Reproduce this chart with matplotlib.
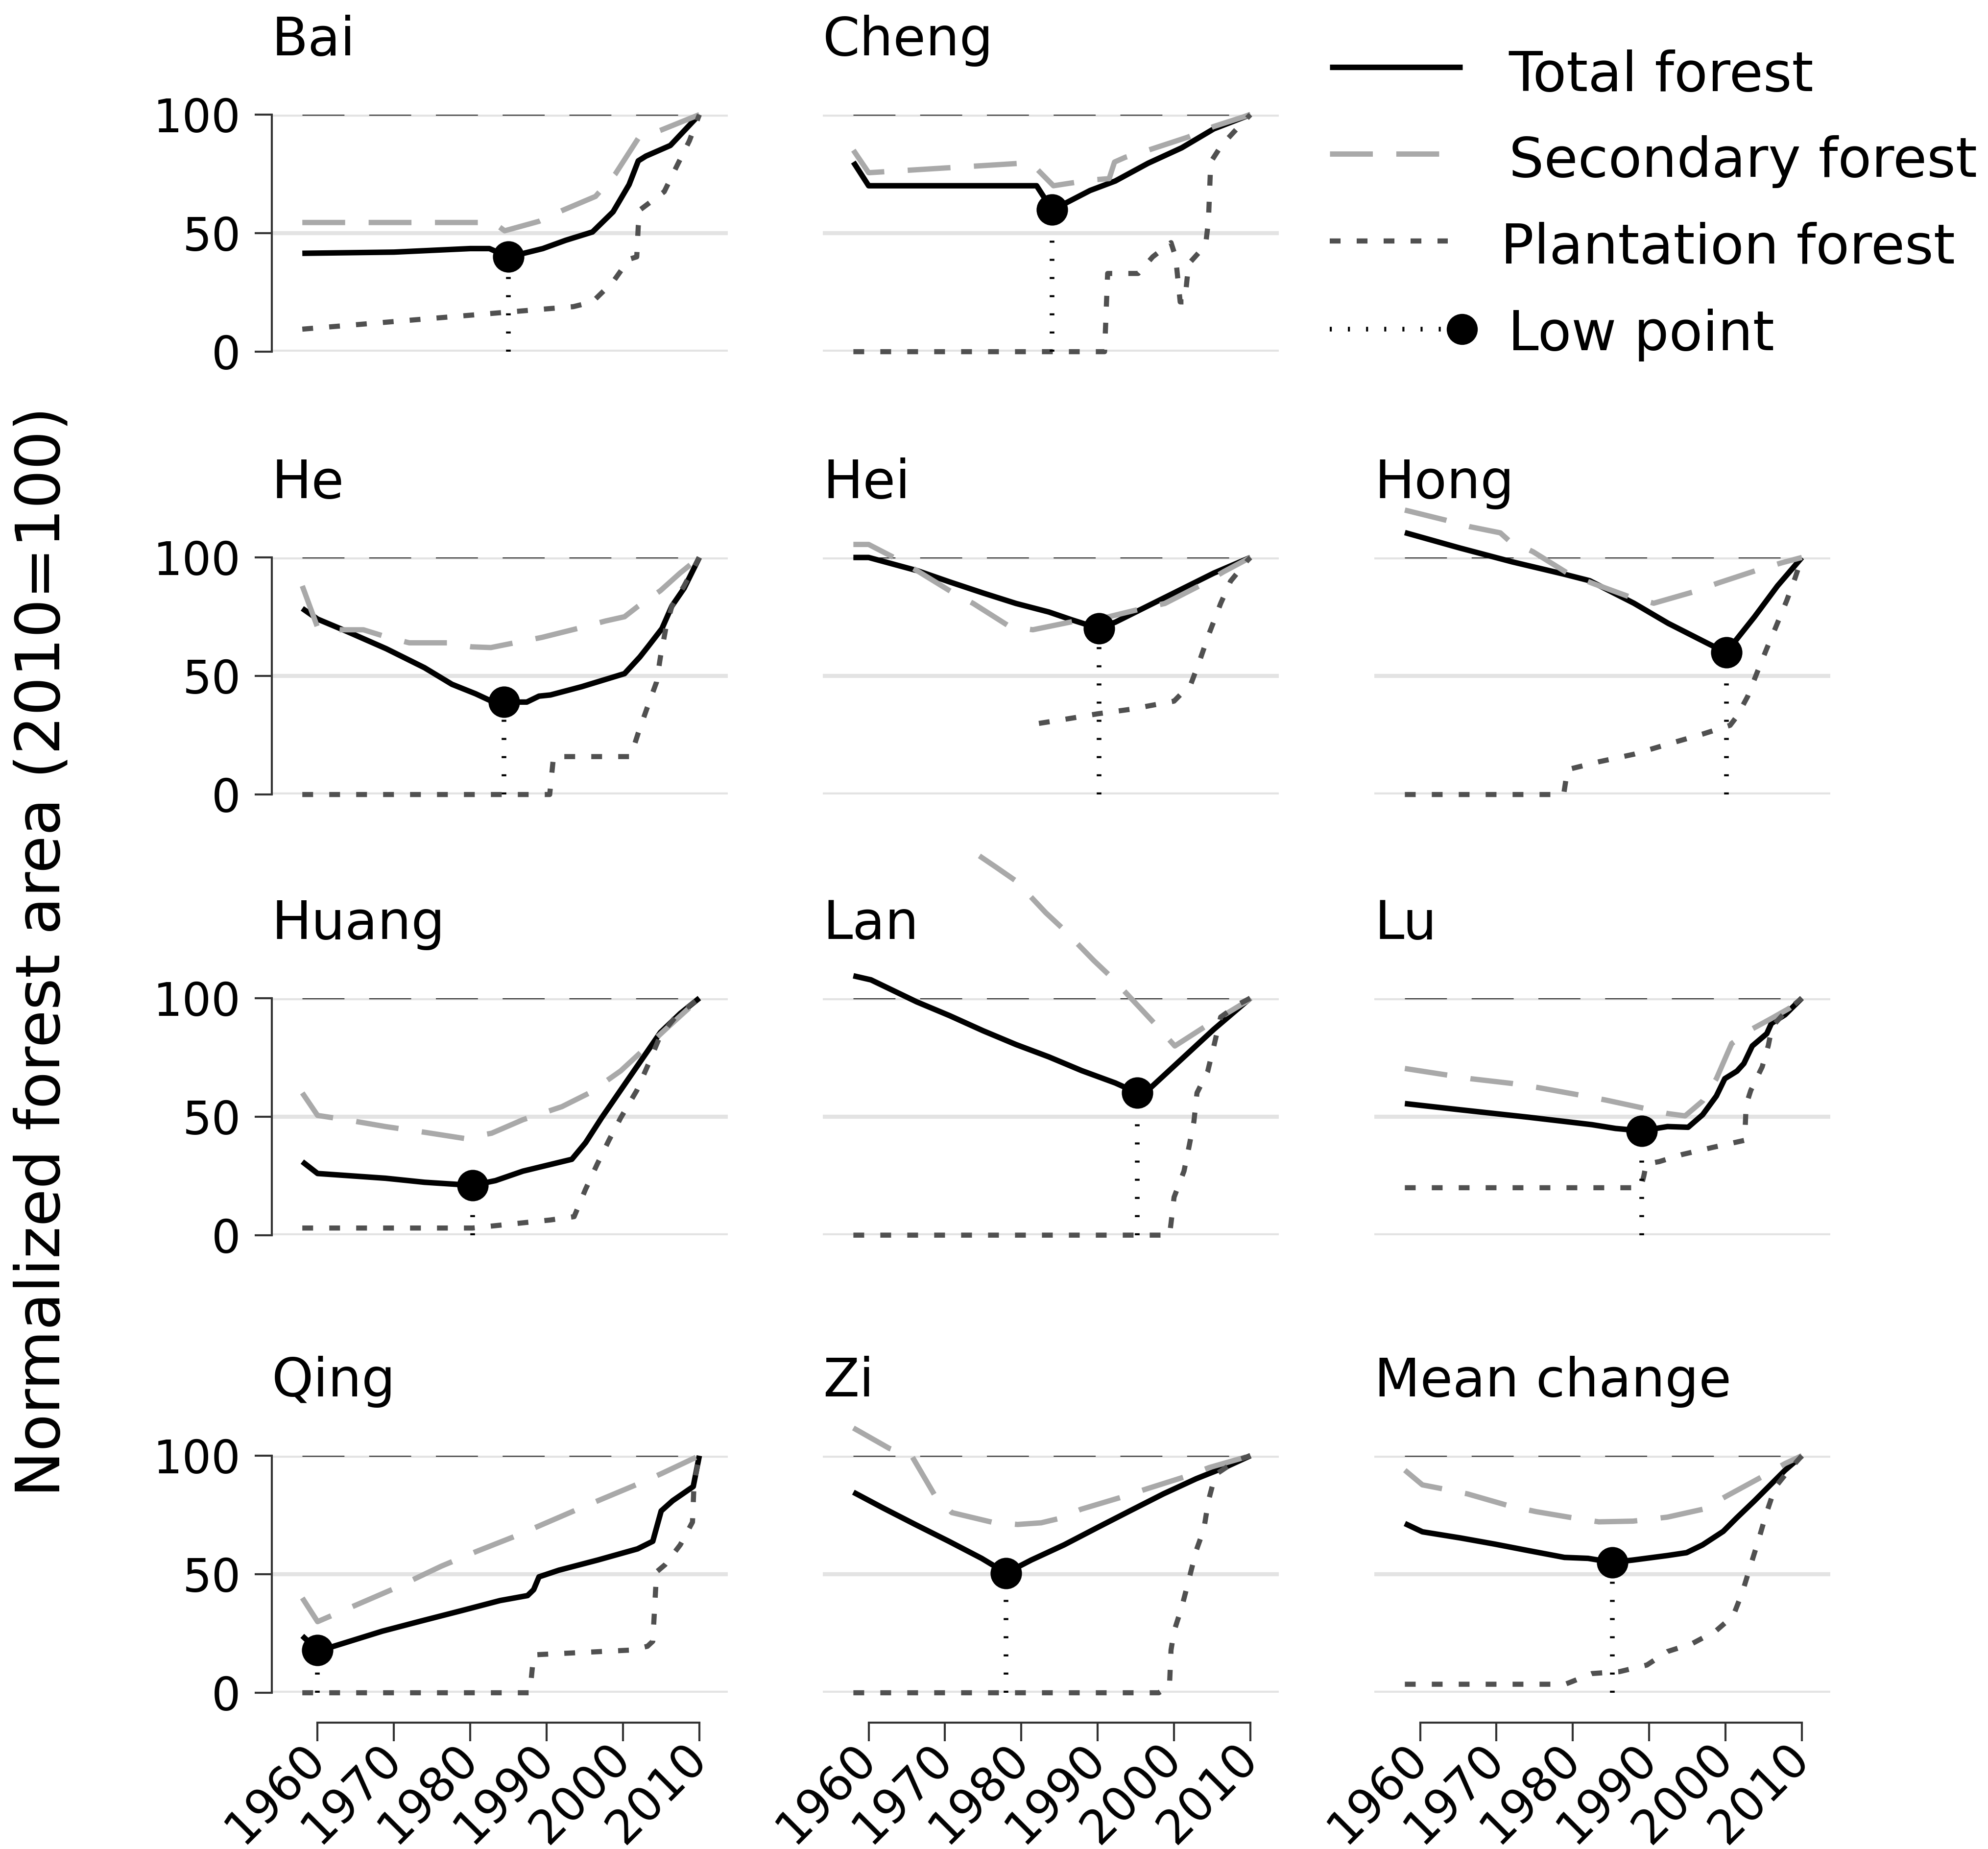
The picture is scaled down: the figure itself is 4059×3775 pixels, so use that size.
import matplotlib
matplotlib.use('Agg')
import matplotlib.pyplot as plt

plt.rcParams['font.family'] = ['DejaVu Sans']
plt.rcParams['lines.scale_dashes'] = False

# (year, value) pairs, 2010 = 100
bai_total = [(1958, 41.5), (1970, 42), (1980, 43.5), (1982.5, 43.5), (1985, 40), (1987, 41.5),
             (1989.5, 43.5), (1992.5, 47), (1996, 50.5), (1998.7, 59), (2000.8, 70.5),
             (2002, 80.5), (2003, 82.5), (2006.2, 87), (2010, 100)]
bai_secondary = [(1958, 54.5), (1983, 54.5), (1984.5, 51), (1989, 55), (1992, 59.5),
                 (1996.4, 65.5), (1999, 75), (2002, 90), (2005, 93.5), (2010, 100)]
bai_plantation = [(1958, 9.5), (1993.5, 19), (1996, 21), (1998.7, 29.5), (2000.8, 39),
                  (2001.8, 40), (2002, 53), (2002.3, 60), (2005.4, 67.5), (2007, 78),
                  (2008.7, 89), (2010, 100)]
bai_low = (1985, 40)

cheng_total = [(1958, 80), (1960, 70), (1982, 70), (1984, 60), (1986, 63), (1989, 68),
               (1992.3, 72), (1996.6, 79.5), (2001, 86), (2005.2, 94), (2010, 100)]
cheng_secondary = [(1958, 85), (1960, 75.5), (1965, 76.5), (1970, 77.5), (1975, 78.5),
                   (1980, 79.5), (1981.6, 78.5), (1984.2, 70), (1986.2, 71), (1989.4, 72.5),
                   (1991.5, 73), (1992.2, 80), (1993.6, 82), (1996.6, 85), (2001.8, 90.5),
                   (2005.2, 95), (2010, 100)]
cheng_plantation = [(1958, 0), (1990.9, 0), (1991.3, 33), (1995.3, 33), (1997.2, 40),
                    (1999.6, 46), (2000.2, 40), (2000.8, 21), (2001.4, 21), (2001.9, 37),
                    (2003.3, 42), (2004.2, 47), (2004.5, 55), (2004.8, 80), (2006.2, 87),
                    (2008.5, 95), (2010, 100)]
cheng_low = (1984, 60)

he_total = [(1958, 78.5), (1960, 74), (1963.7, 69), (1969, 61.5), (1974, 53.5),
            (1977.6, 46.5), (1980.7, 42.5), (1982.7, 39.5), (1984.4, 39), (1987.4, 39),
            (1989, 41.5), (1990.5, 42), (1994.6, 45.5), (2000.2, 51), (2002.2, 58),
            (2003.3, 62.5), (2005.1, 70), (2006.4, 79.5), (2008, 87), (2010, 100)]
he_secondary = [(1958, 88), (1960, 70.5), (1963, 69.5), (1966, 69.5), (1969, 66.5),
                (1972, 64), (1977, 64), (1980.2, 62.3), (1982.7, 62), (1985.8, 64),
                (1989.4, 66.3), (1994, 70), (1997.7, 73.2), (2000.2, 75), (2002, 79.5),
                (2004.9, 86), (2007.5, 93.5), (2010, 100)]
he_plantation = [(1958, 0), (1990.4, 0), (1990.9, 16), (2001, 16), (2002, 26), (2003.1, 36),
                 (2004.4, 47.5), (2004.9, 58), (2005.6, 70), (2006.4, 79.5), (2008, 88),
                 (2010, 100)]
he_low = (1984.4, 39)

hei_total = [(1958, 100), (1960, 100), (1966.3, 94.5), (1970.6, 89.7), (1975, 85),
             (1979.3, 80.6), (1983.6, 77), (1986.6, 73.7), (1990.2, 70), (1992.3, 72.7),
             (1996.6, 79.6), (2000.9, 86.5), (2005.2, 93.4), (2010, 100)]
hei_secondary = [(1958, 105.5), (1960, 105.5), (1963.3, 100), (1966.3, 94.5), (1970.9, 85.4),
                 (1973.7, 80.6), (1978.4, 71), (1981.5, 69.5), (1987.1, 73.2), (1991.2, 74.8),
                 (1995.9, 78.5), (1998.8, 80.6), (2003.9, 89), (2006.5, 94), (2010, 100)]
hei_plantation = [(1982.3, 30), (1986.2, 32), (1989.9, 34), (1994.4, 36), (2000, 39.4),
                  (2002.2, 46.6), (2003.3, 56), (2004.6, 68), (2006.1, 80.6), (2007.4, 90),
                  (2009.6, 98.7), (2010, 100)]
hei_low = (1990.2, 70)

hong_total = [(1958, 110.5), (1965.2, 104), (1972, 98.2), (1978.8, 93), (1982.2, 90.2),
              (1988, 80.7), (1992.5, 72.2), (1998, 63.2), (2000.1, 60), (2003.8, 75),
              (2006.8, 88), (2010, 100)]
hong_secondary = [(1958, 120), (1963.4, 115.7), (1966.5, 113), (1970.5, 110.4),
                  (1971.6, 107.2), (1974.8, 102.4), (1979.3, 93.4), (1982.5, 89.2),
                  (1987.5, 83.3), (1990.6, 80.7), (1995.8, 85.5), (1999, 89.2), (2004, 94.5),
                  (2007.3, 97.7), (2010, 100)]
hong_plantation = [(1958, 0), (1978.8, 0), (1979.3, 10.5), (1983.4, 13.8), (1988, 17),
                   (1992.4, 21.2), (1997, 25.5), (2000.6, 29.2), (2001.5, 33), (2002.9, 41.4),
                   (2004.2, 52), (2005.4, 61.6), (2006.5, 70), (2008, 81.7), (2009.1, 91.3),
                   (2010, 100)]
hong_low = (2000.1, 60)

huang_total = [(1958, 31), (1960, 26), (1968.9, 24), (1974, 22.3), (1980.3, 21), (1983.3, 23),
               (1986.9, 27), (1993.3, 32), (1995.1, 39), (1997.2, 49.5), (2000.3, 64),
               (2003.4, 78.5), (2004.9, 85.5), (2007.5, 93.5), (2010, 100)]
huang_secondary = [(1958, 60), (1960, 50.5), (1963.7, 48.7), (1968.9, 45.8), (1974, 43.4),
                   (1979.2, 40.8), (1982.8, 43), (1986.9, 48.7), (1992, 54.2), (1995.6, 60),
                   (1999.7, 69.3), (2002.8, 78.5), (2005.9, 87.8), (2009.5, 98.3), (2010, 100)]
huang_plantation = [(1958, 3), (1980.3, 3), (1983.3, 4), (1986.9, 5.2), (1990.5, 6.4),
                    (1993.6, 7.8), (1995.1, 19.4), (1996.6, 29.8), (1998.2, 40.3),
                    (1999.7, 49.5), (2001.8, 61), (2003.4, 72.7), (2004.9, 84.3), (2007, 92.5),
                    (2010, 100)]
huang_low = (1980.3, 21)

lan_total = [(1958, 109.4), (1960.3, 107.7), (1966.3, 98.4), (1970.6, 92.6), (1975, 86.2),
             (1979.3, 80.4), (1983.6, 75.2), (1987.9, 69.4), (1992.3, 64.2), (1995.2, 60),
             (1997, 62.4), (2000.9, 74), (2005.2, 86.8), (2010, 100)]
lan_secondary = [(1974.5, 160), (1976.7, 155.2), (1979.3, 149.4), (1983.2, 136),
                 (1985.3, 129.7), (1989.5, 115.8), (1991.6, 109.4), (1995.5, 96),
                 (1997.5, 89.1), (2000.1, 79.8), (2001.8, 83.3), (2004.6, 89.1),
                 (2009.4, 98.4), (2010, 100)]
lan_plantation = [(1958, 0), (1999.4, 0), (1999.6, 5), (2000, 16), (2001.3, 27), (2002, 38),
                  (2002.6, 48), (2003, 60), (2004.4, 69), (2005.3, 81), (2006.1, 92),
                  (2008.5, 97.5), (2010, 100)]
lan_low = (1995.2, 60)

lu_total = [(1958, 55.5), (1965.2, 52.9), (1974.3, 49.7), (1982.5, 46.6), (1985.6, 45),
            (1989, 44), (1992.4, 45.8), (1995.1, 45.5), (1997, 50.8), (1998.8, 58.7),
            (1999.9, 66), (2001.5, 69.2), (2002.4, 72.4), (2003.5, 79.8), (2005.4, 85),
            (2006, 89.3), (2007.8, 93), (2010, 100)]
lu_secondary = [(1958, 70.3), (1963.4, 67.6), (1966.6, 66), (1972, 64), (1975.2, 62.4),
                (1980.7, 59.2), (1984.3, 57), (1989.5, 53.4), (1992.4, 51.3), (1994.7, 50.3),
                (1997, 56.6), (1998.8, 66), (2000.8, 80.8), (2003.5, 87), (2006, 91.4),
                (2008.3, 95.6), (2010, 100)]
lu_plantation = [(1958, 20), (1988.9, 20), (1989.3, 25), (1989.6, 30), (1991.3, 31),
                 (1994.3, 34), (1998.3, 37), (2001.8, 39.5), (2002.5, 40), (2002.7, 55),
                 (2003.3, 61), (2004.8, 71), (2005.6, 80), (2006.1, 88), (2007.8, 94),
                 (2010, 100)]
lu_low = (1989, 44)

qing_total = [(1958, 24), (1960, 18), (1961.8, 19.3), (1968.5, 26), (1973.6, 30.3),
              (1978.8, 34.6), (1983.9, 38.9), (1987.5, 41), (1988.3, 43.5), (1989, 48.9),
              (1991.6, 51.7), (1996.7, 56), (2001.9, 60.7), (2003.9, 63.9), (2005, 76.7),
              (2006.5, 81), (2009.2, 87), (2010, 100)]
qing_secondary = [(1958, 40), (1960, 30), (1970, 43.9), (1976.2, 53.4), (1980.8, 59.6),
                  (1986, 66.2), (1994.2, 77.6), (2001.9, 88), (2005, 92.4), (2010, 100)]
qing_plantation = [(1958, 0), (1987.8, 0), (1988.3, 16), (2001, 18), (2003.2, 19.6),
                   (2003.9, 21.7), (2004.4, 51), (2005.5, 54), (2007.5, 62.4), (2009.1, 72),
                   (2009.3, 88), (2010, 100)]
qing_low = (1960, 18)

zi_total = [(1958, 84.6), (1961.8, 78.1), (1966.1, 71), (1970.5, 63.9), (1974.8, 56.7),
            (1978, 50.5), (1981.3, 56), (1985.6, 62.4), (1989.9, 69.6), (1994.2, 76.7),
            (1998.6, 83.9), (2002.9, 90.3), (2006.8, 95.3), (2010, 100)]
zi_secondary = [(1958, 111.7), (1962.7, 103.1), (1965.7, 99.6), (1968.7, 83.1), (1970.9, 76),
                (1976.1, 72), (1979.5, 71), (1982.6, 71.7), (1984.8, 73.4), (1987.8, 77.4),
                (1993, 82.4), (1996.4, 86), (2001.6, 91.3), (2004.6, 95), (2010, 100)]
zi_plantation = [(1958, 0), (1998, 0), (1999.4, 3), (1999.6, 18), (2000, 26), (2001, 36),
                 (2001.8, 46), (2002.9, 60), (2003.9, 69), (2004.5, 81), (2005.4, 92),
                 (2008.2, 98), (2010, 100)]
zi_low = (1978, 50.5)

mean_total = [(1958, 71.4), (1960.3, 67.9), (1965.3, 65.3), (1969.8, 62.7), (1974.3, 59.9),
              (1978.9, 57.1), (1982, 56.7), (1985.2, 55), (1987.9, 56), (1992.4, 57.9),
              (1994.9, 59.1), (1997, 62.4), (1999.7, 68.1), (2001.5, 73.9), (2003.8, 81),
              (2006, 88.1), (2007.8, 93.9), (2010, 100)]
mean_secondary = [(1958, 93.9), (1960.3, 87.7), (1963, 86), (1966.2, 83.9), (1971.6, 78.9),
                  (1975.2, 76.4), (1979.8, 73.9), (1983.4, 72.1), (1987.9, 72.4),
                  (1992.4, 74.1), (1997, 77.4), (2000.2, 83.1), (2004.7, 91), (2007.8, 96.7),
                  (2010, 100)]
mean_plantation = [(1958, 3.6), (1979, 3.6), (1979.8, 4.6), (1982.5, 8.1), (1986.1, 8.9),
                   (1989.7, 11.7), (1992.4, 17.4), (1995.6, 20.7), (1998.7, 26), (2001, 32.4),
                   (2002.2, 42.4), (2003.3, 53.9), (2004.4, 65.3), (2005.3, 75.3),
                   (2006.5, 86.7), (2008.3, 93.9), (2010, 100)]
mean_low = (1985.2, 55)

names = ['Bai', 'Cheng', 'He', 'Hei', 'Hong', 'Huang', 'Lan', 'Lu', 'Qing', 'Zi', 'Mean change']
year_ticks = [1960, 1970, 1980, 1990, 2000, 2010]
y_ticks = [0, 50, 100]
legend_labels = ['Total forest', 'Secondary forest', 'Plantation forest', 'Low point']

GRID = '#e3e3e3'
SEC = '#a9a9a9'
PLANT = '#505050'
total_style = dict(color='black', lw=2.7, solid_joinstyle='round', solid_capstyle='butt')
sec_style = dict(color=SEC, lw=2.6, ls=(0, (21, 11.5)))
plant_style = dict(color=PLANT, lw=2.5, ls=(0, (5.3, 7.9)))
low_style = dict(color='black', lw=2.3, ls=(0, (1.0, 7.9)))

# figure fractions of each column / row of panels
col_left = [0.1367, 0.4139, 0.6913]
row_bottom = [0.8098, 0.5703, 0.3320, 0.0845]
ax_w, ax_h = 0.2293, 0.1282

panels = [
    (names[0], bai_total, bai_secondary, bai_plantation, bai_low, 0, 0),
    (names[1], cheng_total, cheng_secondary, cheng_plantation, cheng_low, 1, 0),
    (names[2], he_total, he_secondary, he_plantation, he_low, 0, 1),
    (names[3], hei_total, hei_secondary, hei_plantation, hei_low, 1, 1),
    (names[4], hong_total, hong_secondary, hong_plantation, hong_low, 2, 1),
    (names[5], huang_total, huang_secondary, huang_plantation, huang_low, 0, 2),
    (names[6], lan_total, lan_secondary, lan_plantation, lan_low, 1, 2),
    (names[7], lu_total, lu_secondary, lu_plantation, lu_low, 2, 2),
    (names[8], qing_total, qing_secondary, qing_plantation, qing_low, 0, 3),
    (names[9], zi_total, zi_secondary, zi_plantation, zi_low, 1, 3),
    (names[10], mean_total, mean_secondary, mean_plantation, mean_low, 2, 3),
]

fig = plt.figure(figsize=(4059 / 300, 3775 / 300), dpi=300)

for name, total, secondary, plantation, low, col, row in panels:
    ax = fig.add_axes([col_left[col], row_bottom[row], ax_w, ax_h])
    ax.set_xlim(1954, 2013.7)
    ax.set_ylim(0, 100)
    for v in y_ticks:
        ax.axhline(v, color=GRID, lw=2.0, zorder=0.5)
    ax.plot([1958, 2010], [100, 100], color='#333333', lw=0.8, ls=(0, (20.6, 12.1)), zorder=1)

    x, y = zip(*total)
    ax.plot(x, y, zorder=2, clip_on=False, **total_style)
    x, y = zip(*secondary)
    ax.plot(x, y, zorder=3, clip_on=False, **sec_style)
    x, y = zip(*plantation)
    ax.plot(x, y, zorder=4, clip_on=False, **plant_style)
    ax.plot([low[0], low[0]], [0, low[1]], zorder=5, **low_style)
    ax.plot([low[0]], [low[1]], 'o', color='black', ms=14.4, zorder=6, clip_on=False)

    for s in ax.spines.values():
        s.set_visible(False)

    if col == 0:
        ax.spines['left'].set_visible(True)
        ax.spines['left'].set_bounds(0, 100)
        ax.spines['left'].set_color('#333333')
        ax.spines['left'].set_linewidth(1.0)
        ax.set_yticks(y_ticks)
        ax.tick_params(axis='y', length=8.4, width=1.0, color='#333333', pad=6.7,
                       labelsize=22.5)
    else:
        ax.set_yticks([])

    if row == 3:
        ax.spines['bottom'].set_visible(True)
        ax.spines['bottom'].set_bounds(1960, 2010)
        ax.spines['bottom'].set_position(('outward', 14.6))
        ax.spines['bottom'].set_color('#333333')
        ax.spines['bottom'].set_linewidth(1.0)
        ax.set_xticks(year_ticks)
        ax.set_xticklabels([str(t) for t in year_ticks], rotation=45, ha='right',
                           va='center', rotation_mode='anchor')
        ax.tick_params(axis='x', length=9.1, width=1.0, color='#333333', pad=5,
                       labelsize=23)
    else:
        ax.set_xticks([])

    ax.text(0, 1.25, name, transform=ax.transAxes, fontsize=26, ha='left', va='baseline')

fig.text(0.0215, 0.4853, 'Normalized forest area (2010=100)', rotation=90, fontsize=30,
         ha='center', va='center')

# legend, laid out in pixel coordinates of the full figure
lg = fig.add_axes([0, 0, 1, 1])
lg.set_xlim(0, 4059)
lg.set_ylim(3775, 0)
lg.axis('off')
lg.plot([2715, 2986], [137, 137], **total_style)
lg.plot([2715, 2941], [314, 314], **sec_style)
lg.plot([2715, 2956], [492, 492], **plant_style)
lg.plot([2715, 2945], [672, 672], **low_style)
lg.plot([2985], [672], 'o', color='black', ms=14.2)
lg.text(3080, 186, legend_labels[0], fontsize=27, va='baseline')
lg.text(3081, 361.5, legend_labels[1], fontsize=27, va='baseline')
lg.text(3064, 538.5, legend_labels[2], fontsize=27, va='baseline')
lg.text(3079, 715.4, legend_labels[3], fontsize=27, va='baseline')

fig.savefig('out.png', dpi=300)
